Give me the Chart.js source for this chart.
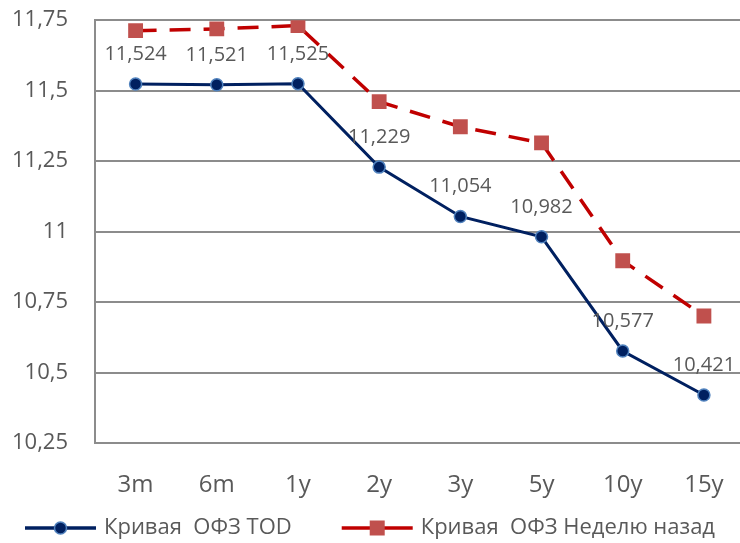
<!DOCTYPE html>
<html>
<head>
<meta charset="utf-8">
<script src="https://cdn.jsdelivr.net/npm/chart.js@4/dist/chart.umd.min.js"></script>
<style>
  html, body { margin: 0; padding: 0; background: #ffffff; overflow: hidden; }
  #wrap { position: relative; top: -20px; width: 755px; height: 563px; }
</style>
</head>
<body>
<div id="wrap"><canvas id="curve"></canvas></div>
<script>
// Tenors on the x axis
const categories = ['3m', '6m', '1y', '2y', '3y', '5y', '10y', '15y'];
// Yields today (labelled points)
const curveToday = [11.524, 11.521, 11.525, 11.229, 11.054, 10.982, 10.577, 10.421];
// Yields one week ago
const curveWeekAgo = [11.713, 11.719, 11.731, 11.461, 11.372, 11.315, 10.897, 10.701];
// Value axis range and step
const yAxisMin = 10.25;
const yAxisMax = 11.75;
const yAxisStep = 0.25;
const seriesNames = ['Кривая  ОФЗ TOD', 'Кривая  ОФЗ Неделю назад'];

const FONT = '"Open Sans", "Noto Sans", sans-serif';
const TEXT = '#595959';
const GRID = '#8c8c8c';

const fmt = v => String(+Number(v).toFixed(3)).replace('.', ',');

// Marker painters shared by the legend
function drawCircleMarker(g, x, y) {
  g.beginPath(); g.arc(x, y, 6, 0, Math.PI * 2);
  g.fillStyle = '#002060'; g.fill();
  g.lineWidth = 1.5; g.strokeStyle = '#4f81bd'; g.stroke();
}
function drawSquareMarker(g, x, y) {
  g.fillStyle = '#c0504d'; g.fillRect(x - 7.5, y - 7.5, 15, 15);
}

// Value labels above the "today" curve
const valueLabels = {
  id: 'valueLabels',
  afterDatasetsDraw(chart) {
    const ctx = chart.ctx;
    const meta = chart.getDatasetMeta(0);
    const data = chart.data.datasets[0].data;
    ctx.save();
    ctx.font = '20px ' + FONT;
    ctx.fillStyle = TEXT;
    ctx.textAlign = 'center';
    ctx.textBaseline = 'alphabetic';
    meta.data.forEach((pt, i) => {
      ctx.fillText(fmt(data[i]), pt.x, pt.y - 24);
    });
    ctx.restore();
  }
};

// Legend row at the bottom: line sample with marker, then the series name
const lineLegend = {
  id: 'lineLegend',
  afterDraw(chart) {
    const ctx = chart.ctx;
    const sampleW = 71, textGap = 8, itemGap = 50;
    const painters = [drawCircleMarker, drawSquareMarker];
    ctx.save();
    ctx.font = '22px ' + FONT;
    const widths = chart.data.datasets.map(ds => ctx.measureText(ds.label).width);
    const total = widths.reduce((s, w) => s + sampleW + textGap + w, 0) + itemGap * (widths.length - 1);
    let x = (740 - total) / 2;
    const y = chart.height - 15;
    chart.data.datasets.forEach((ds, i) => {
      ctx.strokeStyle = ds.borderColor;
      ctx.lineWidth = 3.5;
      ctx.setLineDash([]);
      ctx.beginPath(); ctx.moveTo(x, y); ctx.lineTo(x + sampleW, y); ctx.stroke();
      painters[i](ctx, x + sampleW / 2, y);
      ctx.fillStyle = TEXT;
      ctx.textAlign = 'left';
      ctx.textBaseline = 'middle';
      ctx.fillText(ds.label, x + sampleW + textGap, y);
      x += sampleW + textGap + widths[i] + itemGap;
    });
    ctx.restore();
  }
};

new Chart(document.getElementById('curve'), {
  type: 'line',
  data: {
    labels: categories,
    datasets: [
      {
        label: seriesNames[0],
        data: curveToday,
        borderColor: '#002060',
        borderWidth: 3,
        pointStyle: 'circle',
        pointRadius: 6,
        pointBackgroundColor: '#002060',
        pointBorderColor: '#4f81bd',
        pointBorderWidth: 1.5,
        tension: 0,
        order: 1
      },
      {
        label: seriesNames[1],
        data: curveWeekAgo,
        borderColor: '#c00000',
        borderWidth: 3.5,
        borderDash: [21, 13],
        pointStyle: 'rect',
        pointRadius: 10.5,
        pointBackgroundColor: '#c0504d',
        pointBorderColor: '#c0504d',
        pointBorderWidth: 0,
        tension: 0,
        order: 2
      }
    ]
  },
  options: {
    responsive: true,
    maintainAspectRatio: false,
    animation: false,
    devicePixelRatio: 1,
    layout: { padding: { top: 0, left: 0, right: 0, bottom: 23 } },
    plugins: {
      tooltip: { enabled: false },
      legend: { display: false }
    },
    scales: {
      x: {
        offset: true,
        grid: { display: false },
        border: { display: false },
        ticks: {
          color: TEXT,
          font: { family: FONT, size: 24 },
          padding: 20,
          maxRotation: 0
        }
      },
      y: {
        min: yAxisMin,
        max: yAxisMax,
        afterFit(scale) { scale.width = 95; },
        grid: { color: GRID, lineWidth: 2, drawTicks: false },
        border: { display: true, color: GRID, width: 2 },
        ticks: {
          stepSize: yAxisStep,
          color: TEXT,
          font: { family: FONT, size: 22 },
          padding: 27,
          callback: v => fmt(v)
        }
      }
    }
  },
  plugins: [valueLabels, lineLegend]
});
</script>
</body>
</html>
